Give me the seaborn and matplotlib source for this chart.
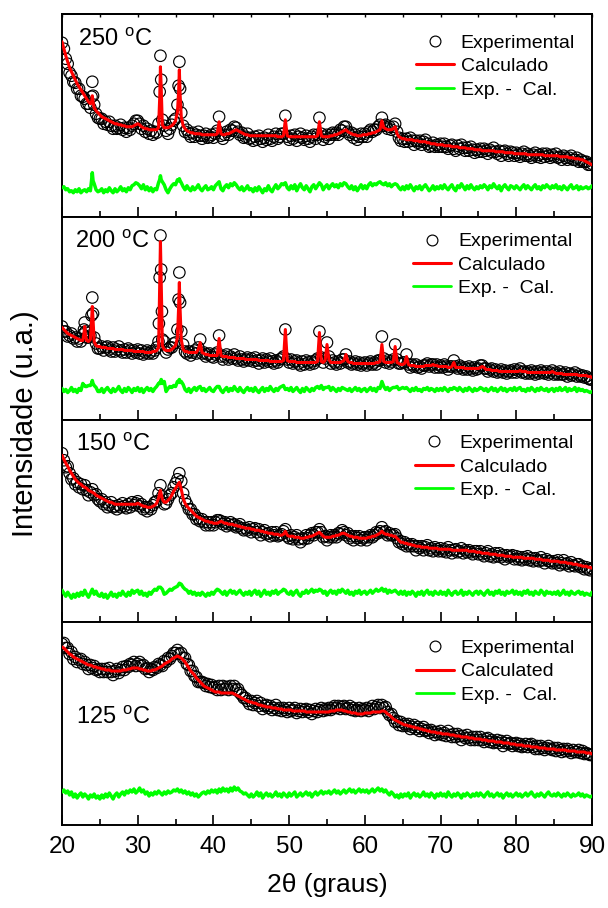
import numpy as np
import pandas as pd
import matplotlib
matplotlib.use("Agg")
import matplotlib.pyplot as plt
from matplotlib.lines import Line2D
from matplotlib.ticker import MultipleLocator
import seaborn as sns

# scan grid (2theta, 0.25 deg step)
two_theta = np.linspace(20, 90, 281)

# ---------------- 250 C ----------------
cal_250 = [175,168,161,155,149,145,141,137,133,130,127,124,121,118,115,113,121,109,106,104,
           102,100,99,98,97,96,95,94,93,93,92,92,91,91,90,90,90,90,91,92,
           93,92,90,89,88,88,87,87,87,87,87,89,150,92,89,89,89,90,91,93,
           96,105,147,100,91,88,86,85,84,84,83,83,83,83,82,82,82,82,82,82,
           82,82,83,95,83,82,82,83,83,84,85,86,87,86,85,84,83,82,82,81,
           81,81,81,81,81,81,81,81,81,81,81,81,81,81,80,80,80,81,97,81,
           80,80,80,80,80,80,80,80,80,80,80,80,80,80,80,81,95,81,80,80,
           80,80,81,81,82,82,83,84,85,86,87,85,84,83,82,82,81,81,81,82,
           82,82,83,83,84,84,85,86,87,96,89,88,87,87,87,88,90,83,80,79,
           78,78,77,77,77,77,76,76,76,75,75,75,75,74,74,73,73,73,72,72,
           72,72,71,71,71,71,70,70,70,70,69,69,69,69,68,68,68,68,67,67,
           67,67,66,66,66,66,66,66,66,65,65,65,65,65,64,64,64,64,64,63,
           63,63,63,63,63,63,62,62,62,62,62,62,62,62,62,61,61,61,61,61,
           61,61,61,60,60,60,60,60,59,59,59,58,58,58,57,57,56,55,54,53,
           52]
exp_250 = [174,168,158,153,144,141,135,134,128,128,121,120,118,113,113,109,135,112,103,99,
           98,98,93,95,92,95,91,88,91,88,89,92,87,89,85,89,87,91,93,96,
           96,93,88,91,85,88,83,86,82,85,84,93,161,97,91,86,83,88,92,96,
           98,112,155,104,91,85,87,83,80,84,80,82,85,81,78,81,83,79,80,82,
           79,83,86,100,81,78,82,85,82,87,86,90,89,85,82,84,79,80,83,78,
           79,76,80,77,81,78,75,79,77,82,78,76,80,83,78,80,83,83,101,80,
           77,81,78,82,76,80,83,79,77,81,78,75,80,82,78,82,99,83,77,80,
           82,78,82,84,82,84,82,87,86,90,90,85,82,84,79,82,77,80,83,80,
           83,80,85,87,85,87,87,90,92,99,91,92,88,90,87,90,93,85,79,76,
           78,75,78,75,79,76,72,76,74,76,72,75,77,73,70,71,74,70,72,70,
           73,70,73,70,68,71,72,68,66,71,68,72,69,66,69,66,70,67,64,67,
           65,68,65,68,66,63,67,65,69,65,63,66,61,65,66,63,61,65,64,61,
           64,62,60,63,65,61,63,61,59,62,64,60,62,59,63,60,63,61,59,62,
           60,63,59,60,57,61,59,57,59,61,57,57,59,55,57,55,55,55,52,52,
           53]
peak_x_250 = [23.9, 24.1, 32.9, 33.1, 35.4, 35.6]
peak_cal_250 = [114, 115, 118, 130, 125, 122]
peak_exp_250 = [120, 121, 125, 137, 131, 128]

# ---------------- 200 C ----------------
cal_200 = [92,90,88,86,85,84,83,82,81,80,79,79,93,79,78,80,113,78,74,73,
           73,72,72,72,71,71,71,71,70,70,70,70,70,69,69,69,69,69,68,68,
           68,68,68,68,67,67,67,67,68,68,69,72,178,74,70,69,69,69,70,72,
           74,82,137,80,70,68,68,67,67,67,67,67,70,77,67,66,65,65,64,64,
           64,64,64,81,64,63,63,63,62,62,62,62,61,61,61,61,61,60,60,60,
           60,60,60,60,59,59,59,59,59,59,58,58,58,58,58,58,58,59,90,59,
           58,58,58,58,57,57,57,57,57,57,57,57,57,57,57,58,87,58,57,59,
           75,60,57,57,57,57,57,57,58,59,65,58,57,57,56,56,56,56,56,56,
           56,56,56,56,56,56,57,57,58,75,58,57,57,57,57,58,73,57,56,55,
           55,56,63,55,54,54,54,53,53,53,53,53,54,54,54,54,55,54,54,53,
           53,53,53,53,52,52,53,57,52,52,52,52,52,51,51,51,51,51,51,51,
           51,52,53,52,50,50,50,49,49,49,49,48,48,48,48,48,48,48,48,48,
           48,48,49,48,48,48,47,47,47,47,47,47,47,47,47,47,47,47,47,48,
           47,46,46,46,46,45,45,45,45,45,45,45,45,44,44,44,44,44,43,43,
           42]
exp_200 = [93,88,88,83,84,86,81,82,78,81,78,85,97,82,82,84,122,82,76,71,
           71,73,69,72,73,70,68,72,68,70,73,69,67,70,67,71,69,66,69,67,
           70,66,69,65,67,69,66,68,66,69,72,78,184,80,78,67,70,72,72,76,
           77,90,147,88,75,68,66,68,64,67,69,66,72,80,66,67,63,65,66,63,
           62,65,67,84,63,60,63,65,60,63,61,65,61,59,63,60,58,60,62,59,
           61,58,62,59,56,59,61,57,60,58,61,58,56,59,57,60,61,63,90,60,
           57,60,56,58,59,56,54,58,55,59,57,55,58,56,59,61,88,62,57,61,
           77,63,56,59,57,55,58,56,60,60,65,57,58,55,56,58,55,57,54,56,
           57,54,56,58,55,57,55,59,59,83,61,57,59,56,58,60,75,60,56,56,
           57,57,65,55,52,55,53,55,52,53,51,54,54,56,53,55,55,52,55,52,
           54,52,55,53,50,53,53,59,53,51,54,52,50,52,50,53,51,49,52,50,
           51,54,54,51,51,48,50,51,48,50,47,48,50,47,49,46,48,49,47,50,
           47,49,51,47,48,46,48,46,49,47,45,48,46,49,47,46,48,45,47,49,
           45,47,45,48,45,45,47,43,46,44,45,47,43,45,43,44,42,43,41,40,
           40]
peak_x_200 = [22.9, 23.1, 23.9, 24.1, 32.8, 32.9, 33.1, 33.2, 35.4, 35.6]
peak_cal_200 = [86, 85, 98, 100, 90, 135, 140, 100, 112, 110]
peak_exp_200 = [90, 88, 104, 106, 96, 142, 150, 108, 120, 117]

# ---------------- 150 C ----------------
cal_150 = [167,163,159,156,152,149,146,143,141,139,138,136,135,134,132,131,130,129,127,126,
           125,124,123,122,121,120,120,119,118,118,118,118,118,118,118,118,118,118,118,118,
           119,118,117,116,116,115,115,115,116,117,119,124,132,123,120,120,122,124,127,131,
           134,137,140,133,124,119,116,114,112,110,108,106,105,104,103,102,101,101,100,100,
           99,99,99,100,101,100,99,99,98,98,98,97,97,96,96,95,95,94,94,94,
           93,93,92,92,92,91,91,90,90,89,89,89,88,88,88,87,87,88,91,87,
           86,86,86,85,85,85,84,84,84,85,85,86,86,87,88,89,90,88,86,85,
           85,85,85,86,86,87,87,88,89,89,88,87,86,86,85,85,85,84,84,84,
           84,84,85,85,86,86,87,88,89,91,89,88,88,87,87,86,86,84,82,80,
           80,79,79,78,78,77,77,76,76,76,75,75,75,75,74,74,74,74,74,73,
           73,73,73,73,73,73,72,72,72,72,72,72,72,72,72,71,71,71,71,70,
           70,70,69,69,69,69,68,68,68,68,67,67,67,67,66,66,66,66,65,65,
           65,65,65,65,64,64,64,64,64,64,63,63,63,63,62,62,62,62,61,61,
           61,61,61,60,60,60,60,59,59,59,58,58,58,57,57,56,56,56,55,55,
           54]
exp_150 = [169,162,155,156,149,143,144,138,140,135,138,133,137,132,127,130,133,127,128,123,
           121,123,118,120,115,117,120,115,116,113,117,115,119,116,114,118,115,120,117,119,
           121,116,118,113,115,111,115,113,117,120,121,129,137,126,118,119,123,127,129,135,
           139,143,149,141,129,122,118,113,113,108,108,103,104,101,103,100,97,100,97,100,
           97,100,102,102,101,98,100,96,98,100,97,98,95,96,98,94,92,94,92,95,
           90,93,94,90,93,87,90,92,88,89,86,90,87,90,86,87,88,91,93,86,
           84,87,83,85,87,83,80,84,83,87,84,87,89,87,90,90,93,90,85,86,
           82,85,87,85,87,85,89,88,92,90,87,89,84,86,82,86,84,86,82,84,
           85,82,85,87,85,87,90,89,91,95,90,91,87,89,87,87,88,84,80,81,
           78,80,76,78,76,78,76,72,76,74,76,72,75,77,72,74,71,75,73,71,
           74,71,73,70,75,72,69,72,73,70,71,74,69,72,70,72,70,68,71,71,
           68,71,68,66,69,71,66,68,65,69,66,69,65,67,63,67,65,66,67,63,
           66,63,65,62,65,63,66,62,64,61,64,62,61,65,62,59,63,61,61,59,
           61,59,62,57,59,62,58,59,56,60,57,56,58,58,55,56,53,55,53,52,
           54]
peak_x_150 = []
peak_cal_150 = []
peak_exp_150 = []

# ---------------- 125 C ----------------
cal_125 = [178,177,175,173,171,170,168,167,166,165,164,163,162,161,160,160,159,158,158,157,
           157,156,156,155,155,155,154,154,154,154,154,154,155,155,155,156,156,157,157,157,
           157,156,156,155,155,154,154,154,155,155,156,157,158,159,161,162,163,164,166,167,
           168,169,168,167,165,163,160,157,154,152,150,147,145,143,141,139,138,137,136,135,
           134,133,133,133,132,132,132,132,132,132,132,131,130,129,128,127,126,125,124,123,
           123,122,122,121,120,120,119,119,118,118,118,117,117,117,116,116,116,115,115,115,
           115,115,114,114,114,114,114,114,114,113,113,113,113,113,113,113,113,113,113,113,
           113,113,114,114,114,115,115,115,115,114,114,113,113,112,112,112,111,111,111,111,
           112,112,112,112,113,113,113,113,113,114,114,113,111,110,108,106,105,104,103,102,
           101,100,100,99,99,98,98,97,97,96,96,95,95,94,94,93,93,93,92,92,
           92,91,91,91,91,90,90,90,89,89,89,88,88,88,88,87,87,87,86,86,
           86,86,85,85,85,84,84,84,84,83,83,83,83,82,82,82,82,81,81,81,
           80,80,80,80,79,79,79,79,78,78,78,78,77,77,77,77,76,76,76,76,
           76,75,75,75,75,75,75,74,74,74,74,74,73,73,73,73,73,72,72,72,
           71]
exp_125 = [181,182,177,177,171,173,166,168,163,165,166,161,163,160,156,160,157,159,155,156,
           153,156,153,156,153,157,153,150,154,156,152,155,158,155,159,158,161,160,163,159,
           161,163,159,160,156,157,153,156,155,158,157,161,160,159,164,163,167,166,169,172,
           172,175,171,172,167,167,161,160,154,154,149,148,143,143,143,142,139,141,138,140,
           137,138,135,139,135,139,136,138,135,139,136,139,135,136,132,130,127,127,124,121,
           124,120,122,124,119,122,116,119,120,117,119,115,117,120,115,117,114,117,115,113,
           117,114,115,117,112,114,116,113,115,116,113,115,111,114,116,113,115,117,114,116,
           115,117,115,117,119,117,119,116,118,119,116,117,119,115,117,114,115,117,114,116,
           115,117,114,116,119,116,118,120,117,120,117,118,113,110,111,107,103,104,100,103,
           99,101,99,101,96,98,100,96,98,94,96,98,94,95,92,95,93,90,93,91,
           94,90,92,89,94,90,88,91,88,91,89,85,89,87,90,87,85,88,85,88,
           85,88,85,83,86,87,83,85,82,83,85,82,84,79,82,84,81,82,79,81,
           82,79,81,78,79,81,78,80,81,78,76,79,76,79,77,75,77,79,76,75,
           77,74,77,75,73,76,74,76,74,72,75,73,73,75,72,74,71,72,71,70,
           70]
peak_x_125 = []
peak_cal_125 = []
peak_exp_125 = []

temperatures = ["250", "200", "150", "125"]
calc_labels = ["Calculado", "Calculado", "Calculado", "Calculated"]
diff_offset = 30

sns.set_style("ticks")
plt.rcParams["font.family"] = ["Liberation Sans", "DejaVu Sans"]
plt.rcParams["mathtext.fontset"] = "custom"
plt.rcParams["mathtext.rm"] = "Liberation Sans"
plt.rcParams["mathtext.it"] = "Liberation Sans:italic"
for key in ["text.color", "axes.labelcolor", "xtick.color", "ytick.color",
            "axes.edgecolor"]:
    plt.rcParams[key] = "black"

W, H = 608, 908
fig = plt.figure(figsize=(W / 100, H / 100), dpi=100)
gs = fig.add_gridspec(4, 1, left=62 / W, right=592 / W, top=1 - 14 / H,
                      bottom=1 - 825 / H, hspace=0)

panels = [
    (cal_250, exp_250, peak_x_250, peak_cal_250, peak_exp_250),
    (cal_200, exp_200, peak_x_200, peak_cal_200, peak_exp_200),
    (cal_150, exp_150, peak_x_150, peak_cal_150, peak_exp_150),
    (cal_125, exp_125, peak_x_125, peak_cal_125, peak_exp_125),
]
label_pos = [(0.030, 0.873), (0.025, 0.877), (0.027, 0.877), (0.027, 0.527)]
legend_pos = [(0.968, 0.901), (0.963, 0.921), (0.966, 0.926), (0.968, 0.916)]
panel_h = (825 - 14) / 4

for i, (cal, exp, px, pc, pe) in enumerate(panels):
    assert len(cal) == 281 and len(exp) == 281, (i, len(cal), len(exp))
    ax = fig.add_subplot(gs[i])
    x = np.concatenate([two_theta, np.asarray(px, float)])
    order = np.argsort(x, kind="stable")
    x = x[order]
    yc = np.concatenate([np.asarray(cal, float), np.asarray(pc, float)])[order]
    ye = np.concatenate([np.asarray(exp, float), np.asarray(pe, float)])[order]
    df = pd.DataFrame({"two_theta": x, "exp": ye, "cal": yc,
                       "diff": ye - yc + diff_offset})

    sns.scatterplot(data=df, x="two_theta", y="exp", ax=ax, marker="o", s=68,
                    legend=False, zorder=2)
    coll = ax.collections[-1]
    coll.set_facecolor("none")
    coll.set_edgecolor("black")
    coll.set_linewidth(0.85)
    sns.lineplot(data=df, x="two_theta", y="cal", ax=ax, color="#ff0000", lw=2.2,
                 estimator=None, sort=False, legend=False, zorder=3)
    sns.lineplot(data=df, x="two_theta", y="diff", ax=ax, color="#00ff00", lw=2.5,
                 estimator=None, sort=False, legend=False, zorder=3)

    ax.set_xlim(20, 90)
    ax.set_ylim(0, panel_h)
    ax.set_xlabel("")
    ax.set_ylabel("")
    ax.xaxis.set_major_locator(MultipleLocator(10))
    ax.xaxis.set_minor_locator(MultipleLocator(5))
    ax.tick_params(axis="x", which="major", direction="in", length=7.5, width=1.2,
                   bottom=True, top=False, labelsize=17.5, pad=8, colors="black")
    ax.tick_params(axis="x", which="minor", direction="in", length=4.5, width=1.2,
                   bottom=True, top=False)
    ax.tick_params(axis="y", left=False, right=False, labelleft=False)
    if i < 3:
        ax.tick_params(axis="x", labelbottom=False)
    for sp in ax.spines.values():
        sp.set_visible(True)
        sp.set_linewidth(1.4)
        sp.set_color("black")
    if i == 0:
        sec = ax.secondary_xaxis("top")
        sec.xaxis.set_major_locator(MultipleLocator(10))
        sec.xaxis.set_minor_locator(MultipleLocator(5))
        sec.tick_params(axis="x", which="both", direction="in", length=2.5, width=1.0,
                        labeltop=False)
        sec.spines["top"].set_linewidth(1.4)

    lx, ly = label_pos[i]
    ax.text(lx, ly, temperatures[i] + r" $^{\mathregular{o}}$C", transform=ax.transAxes,
            ha="left", va="center", fontsize=17, color="black")

    handles = [
        Line2D([], [], ls="none", marker="o", ms=7.8, mfc="none", mec="black", mew=0.85),
        Line2D([], [], color="#ff0000", lw=2.2),
        Line2D([], [], color="#00ff00", lw=2.0),
    ]
    leg = ax.legend(handles, ["Experimental", calc_labels[i], "Exp. -  Cal."],
                    loc="upper right", bbox_to_anchor=legend_pos[i], frameon=False,
                    fontsize=14, handlelength=1.95, handletextpad=0.36,
                    labelspacing=0.3, borderpad=0, borderaxespad=0)
    for t in leg.get_texts():
        t.set_color("black")

fig.text(327 / W, 1 - 885 / H, "2θ (graus)", ha="center", va="center", fontsize=19,
         color="black")
fig.text(25 / W, 1 - 424 / H, "Intensidade (u.a.)", rotation=90, ha="center",
         va="center", fontsize=21, color="black")

fig.savefig("out.png", dpi=100)
